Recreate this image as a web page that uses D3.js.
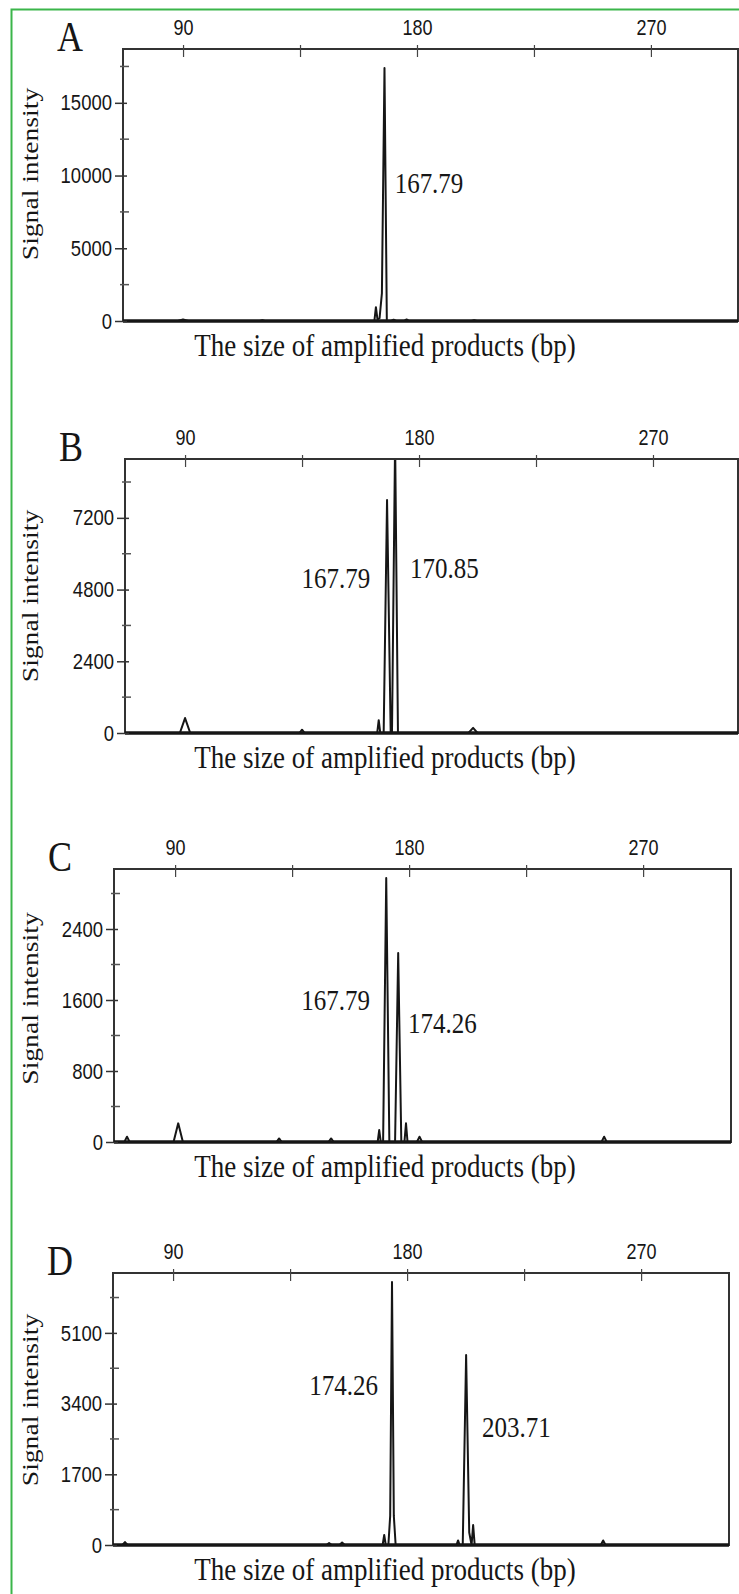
<!DOCTYPE html>
<html>
  <head>
    <meta http-equiv="Content-Type" content="text/html;charset=utf-8"/>
    <title>Fragment analysis</title>
    <script src="https://d3js.org/d3.v7.min.js"></script>
  </head>
  <body>
    <style>
      body { margin: 0; background: #fff; }
      svg { display: block; }
    </style>
    <script type="text/javascript">

        // ---- data ----
        const panelNames = ['A', 'B', 'C', 'D']
        const xTickValues = [90, 135, 180, 225, 270]
        const xTickLabels = [90, 180, 270]
        const xDomains = [[66.9, 303.5], [66.9, 302.7], [66.5, 303.8], [66.9, 303.8]]
        const yMaxes = [18700, 9170, 3076, 6540]
        const yTicksA = [0, 5000, 10000, 15000]
        const yTicksB = [0, 2400, 4800, 7200]
        const yTicksC = [0, 800, 1600, 2400]
        const yTicksD = [0, 1700, 3400, 5100]
        const yMinorSteps = [2500, 1200, 400, 850]

        // trace points: [size (bp), signal]
        const traceA = [[66.9,0],[88,0],[90,110],[92,0],[119.5,0],[120.5,50],[121.5,0],[163.6,0],[164.2,950],[164.8,120],
            [165.6,200],[166.5,1900],[167.5,17400],[168.4,0],[170,0],[171,90],[172,0],[175,0],[176,110],[177,0],
            [201,0],[202,60],[203,0],[303.5,0]]
        const traceB = [[66.9,0],[88,0],[90,500],[92,0],[134,0],[135,110],[136,0],[163.9,0],[164.5,430],[165.1,0],
            [166.4,0],[167.7,7800],[169.1,0],[169.6,0],[170.8,9800],[171.9,0],[199,0],[200.8,170],[202.5,0],[302.7,0]]
        const traceC = [[66.5,0],[70.5,0],[71.5,60],[72.5,0],[89.4,0],[91.2,210],[93,0],[129,0],[130,40],[131,0],
            [149,0],[150,40],[151,0],[167.9,0],[168.5,135],[169.1,0],[170,0],[171.2,2975],[172.4,0],[174.6,0],
            [175.8,2130],[177,0],[178.2,0],[178.8,210],[179.4,0],[183,0],[184,60],[185,0],[254,0],[255,60],[256,0],[303.8,0]]
        const traceD = [[66.9,0],[70.5,0],[71.5,70],[72.5,0],[149,0],[150,50],[151,0],[154,0],[155,60],[156,0],
            [170.6,0],[171.2,240],[171.8,0],[172.8,0],[173.5,700],[174.2,6324],[174.9,700],[175.6,0],
            [199,0],[199.6,110],[200.2,0],[201.4,0],[202.7,4570],[203.9,300],[204.8,0],[205.4,480],[206,0],
            [254.5,0],[255.4,110],[256.3,0],[303.8,0]]

        // peak labels: [text, size (bp), signal, anchor]
        const peakLabelsA = [['167.79', 171.4, 8830, 'start']]
        const peakLabelsB = [['167.79', 161.2, 4850, 'end'], ['170.85', 176.5, 5190, 'start']]
        const peakLabelsC = [['167.79', 165.0, 1487, 'end'], ['174.26', 179.6, 1228, 'start']]
        const peakLabelsD = [['174.26', 168.8, 3607, 'end'], ['203.71', 208.8, 2597, 'start']]

        const yTicksAll = [yTicksA, yTicksB, yTicksC, yTicksD]
        const tracesAll = [traceA, traceB, traceC, traceD]
        const labelsAll = [peakLabelsA, peakLabelsB, peakLabelsC, peakLabelsD]

        // ---- layout ----
        const width = 739,
            height = 1594

        // ytShift: the rotated y title is not quite centred on each plot
        const frames = [
            {left: 123, top: 49, right: 738, bottom: 321, ytShift: -11},
            {left: 125, top: 459, right: 738, bottom: 733, ytShift: 0},
            {left: 114, top: 869, right: 731, bottom: 1142, ytShift: -7},
            {left: 113, top: 1273, right: 729, bottom: 1545, ytShift: -9}
        ]

        const serif = '"Liberation Serif", "Times New Roman", serif'
        const sans = '"Liberation Sans", Arial, sans-serif'
        const ink = '#161616'
        const stretch = 'scale(1,1.2)'

        const svg = d3.select('body').append('svg')
            .attr('width', width)
            .attr('height', height)

        svg.append('rect').attr('width', width).attr('height', height).attr('fill', '#fff')

        // green border (left + top)
        svg.append('path')
            .attr('d', `M11.5,${height} L11.5,9.5 L${width},9.5`)
            .attr('fill', 'none')
            .attr('stroke', '#3bb54a')
            .attr('stroke-width', 2)

        panelNames.forEach((name, i) => {
            const f = frames[i]
            const x = d3.scaleLinear().domain(xDomains[i]).range([f.left, f.right])
            const y = d3.scaleLinear().domain([0, yMaxes[i]]).range([f.bottom, f.top])
            const g = svg.append('g')

            g.append('clipPath').attr('id', 'clip' + name)
                .append('rect')
                .attr('x', f.left).attr('y', f.top)
                .attr('width', f.right - f.left).attr('height', f.bottom - f.top)

            // trace
            g.append('path')
                .datum(tracesAll[i])
                .attr('clip-path', `url(#clip${name})`)
                .attr('fill', 'none')
                .attr('stroke', ink)
                .attr('stroke-width', 2)
                .attr('stroke-linejoin', 'round')
                .attr('d', d3.line().x(d => x(d[0])).y(d => y(d[1])))

            // frame
            g.append('rect')
                .attr('x', f.left).attr('y', f.top)
                .attr('width', f.right - f.left).attr('height', f.bottom - f.top)
                .attr('fill', 'none')
                .attr('stroke', '#333')
                .attr('stroke-width', 2)
            g.append('line')
                .attr('x1', f.left).attr('x2', f.right)
                .attr('y1', f.bottom).attr('y2', f.bottom)
                .attr('stroke', ink)
                .attr('stroke-width', 3.5)

            // left axis, major ticks
            const yAxis = g.append('g')
                .attr('transform', `translate(${f.left},0)`)
                .call(d3.axisLeft(y).tickValues(yTicksAll[i]).tickFormat(d3.format('d'))
                    .tickSizeInner(8).tickSizeOuter(0).tickPadding(3))
            yAxis.select('.domain').remove()
            yAxis.selectAll('line').attr('x2', 4).attr('x1', -8).attr('stroke', '#333').attr('stroke-width', 1.5)
            yAxis.selectAll('text')
                .attr('transform', stretch)
                .style('font-family', sans)
                .style('font-size', '18.5px')
                .attr('fill', ink)

            // minor ticks
            const step = yMinorSteps[i]
            const minor = d3.range(step, yMaxes[i], step).filter(v => !yTicksAll[i].includes(v))
            g.append('g').selectAll('line')
                .data(minor)
                .join('line')
                .attr('x1', f.left - 3).attr('x2', f.left + 6)
                .attr('y1', d => y(d)).attr('y2', d => y(d))
                .attr('stroke', '#555')
                .attr('stroke-width', 1.5)

            // top axis
            const xAxis = g.append('g')
                .attr('transform', `translate(0,${f.top})`)
                .call(d3.axisTop(x).tickValues(xTickValues).tickSizeOuter(0).tickSizeInner(4)
                    .tickFormat(d => xTickLabels.includes(d) ? d : ''))
            xAxis.select('.domain').remove()
            xAxis.selectAll('line').attr('y1', 8).attr('y2', -4).attr('stroke', '#444').attr('stroke-width', 1.2)
            xAxis.selectAll('text')
                .attr('y', -14 / 1.2)
                .attr('dy', 0)
                .attr('transform', stretch)
                .style('font-family', sans)
                .style('font-size', '18px')
                .attr('fill', ink)

            // panel letter
            g.append('text')
                .attr('transform', `translate(${f.left - 66},${f.top + 2}) ${stretch}`)
                .style('font-family', serif)
                .style('font-size', '36px')
                .attr('fill', ink)
                .text(name)

            // y title
            g.append('text')
                .attr('transform', `translate(38,${(f.top + f.bottom) / 2 + f.ytShift}) rotate(-90) scale(1.2,1)`)
                .attr('text-anchor', 'middle')
                .style('font-family', serif)
                .style('font-size', '23px')
                .attr('fill', ink)
                .text('Signal intensity')

            // x title
            g.append('text')
                .attr('transform', `translate(385,${f.bottom + 35}) ${stretch}`)
                .attr('text-anchor', 'middle')
                .style('font-family', serif)
                .style('font-size', '27px')
                .attr('fill', ink)
                .text('The size of amplified products (bp)')

            // peak labels
            g.append('g').selectAll('text')
                .data(labelsAll[i])
                .join('text')
                .attr('transform', d => `translate(${x(d[1])},${y(d[2])}) ${stretch}`)
                .attr('text-anchor', d => d[3])
                .style('font-family', serif)
                .style('font-size', '25px')
                .attr('fill', ink)
                .text(d => d[0])
        })

    </script>
  </body>
</html>
